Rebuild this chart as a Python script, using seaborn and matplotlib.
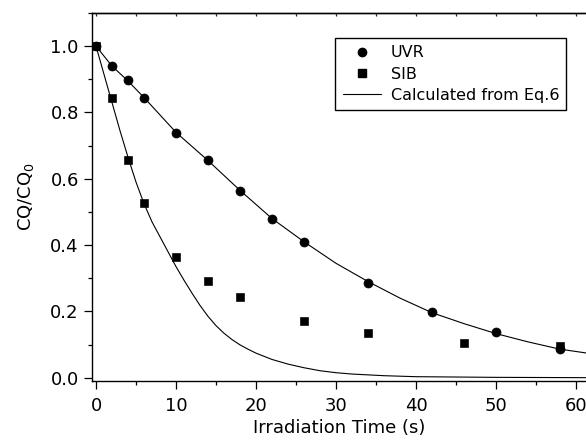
import numpy as np
import pandas as pd
import seaborn as sns
import matplotlib.pyplot as plt
from matplotlib.lines import Line2D
from matplotlib.ticker import MultipleLocator

# measured points
uvr_t = [0, 2, 4, 6, 10, 14, 18, 22, 26, 34, 42, 50, 58]
uvr_c = [1.0, 0.94, 0.899, 0.843, 0.737, 0.656, 0.564, 0.48, 0.41, 0.285, 0.197, 0.139, 0.087]

sib_t = [0, 2, 4, 6, 10, 14, 18, 26, 34, 46, 58]
sib_c = [1.0, 0.844, 0.658, 0.527, 0.364, 0.293, 0.244, 0.172, 0.135, 0.105, 0.095]

# curves calculated from Eq.6
calc_slow_t = [0, 2, 4, 6, 10, 14, 18, 22, 26, 30, 34, 38, 42, 46, 50, 54, 58, 62]
calc_slow_c = [1.0, 0.94, 0.895, 0.845, 0.74, 0.655, 0.565, 0.48, 0.41, 0.345,
               0.29, 0.24, 0.196, 0.163, 0.133, 0.108, 0.086, 0.072]
calc_fast_t = [0, 1, 2, 3, 4, 5, 6, 7, 8, 9, 10, 11, 12, 13, 14, 15, 16, 17, 18,
               19, 20, 22, 24, 26, 28, 30, 32, 36, 40, 50, 62]
calc_fast_c = [1.0, 0.915, 0.83, 0.745, 0.665, 0.59, 0.525, 0.47, 0.425, 0.38,
               0.335, 0.294, 0.255, 0.218, 0.185, 0.157, 0.134, 0.115, 0.099,
               0.086, 0.074, 0.055, 0.041, 0.03, 0.021, 0.015, 0.011, 0.006,
               0.003, 0.001, 0.0]

sns.set_style("ticks")
plt.rcParams["font.family"] = ["DejaVu Sans"]
plt.rcParams["mathtext.fontset"] = "dejavusans"
plt.rcParams["text.color"] = "black"
plt.rcParams["axes.labelcolor"] = "black"

fig = plt.figure(figsize=(5.86, 4.44), dpi=100)
ax = fig.add_axes([92 / 586, 1 - 381 / 444, 1 - 92 / 586, (381 - 13) / 444])

sns.lineplot(x=calc_slow_t, y=calc_slow_c, ax=ax, color="black", lw=0.8)
sns.lineplot(x=calc_fast_t, y=calc_fast_c, ax=ax, color="black", lw=0.8)
sns.scatterplot(x=uvr_t, y=uvr_c, ax=ax, marker="o", s=42, color="black",
                edgecolor="black", zorder=3)
sns.scatterplot(x=sib_t, y=sib_c, ax=ax, marker="s", s=32, color="black",
                edgecolor="black", zorder=3)

ax.set_xlim(-0.5, 61.25)
ax.set_ylim(-0.01, 1.1)
ax.xaxis.set_major_locator(MultipleLocator(10))
ax.xaxis.set_minor_locator(MultipleLocator(5))
ax.yaxis.set_major_locator(MultipleLocator(0.2))
ax.yaxis.set_minor_locator(MultipleLocator(0.1))
ax.yaxis.set_major_formatter(plt.FormatStrFormatter("%.1f"))
ax.tick_params(which="major", direction="out", length=5.5, width=0.9,
               labelsize=13, color="black", labelcolor="black", pad=4)
ax.tick_params(axis="x", which="major", pad=6)
ax.tick_params(which="minor", direction="out", length=3, width=0.9, color="black")
ax.spines["right"].set_visible(False)
for s in ["left", "bottom", "top"]:
    ax.spines[s].set_linewidth(1.0)
    ax.spines[s].set_color("black")

top = ax.secondary_xaxis("top")
top.xaxis.set_major_locator(MultipleLocator(5))
top.tick_params(direction="in", length=2.5, width=0.9, labeltop=False)
top.spines["top"].set_linewidth(1.0)

ax.set_xlabel("Irradiation Time (s)", fontsize=13, labelpad=3)
ax.set_ylabel("CQ/CQ$_0$", fontsize=13, labelpad=10)

handles = [
    Line2D([], [], marker="o", ls="none", color="black", markersize=6),
    Line2D([], [], marker="s", ls="none", color="black", markersize=5.5),
    Line2D([], [], color="black", lw=0.8),
]
labels = ["UVR", "SIB", "Calculated from Eq.6"]
leg = ax.legend(handles, labels, loc="upper right", bbox_to_anchor=(0.96, 0.932),
                borderaxespad=0, fontsize=11.5, fancybox=False, frameon=True,
                edgecolor="black", handlelength=2.4, handletextpad=0.6,
                labelspacing=0.4, borderpad=0.45, labelcolor="black")
leg.get_frame().set_linewidth(1.0)
leg.get_frame().set_alpha(1)

fig.savefig("out.png", dpi=100)
